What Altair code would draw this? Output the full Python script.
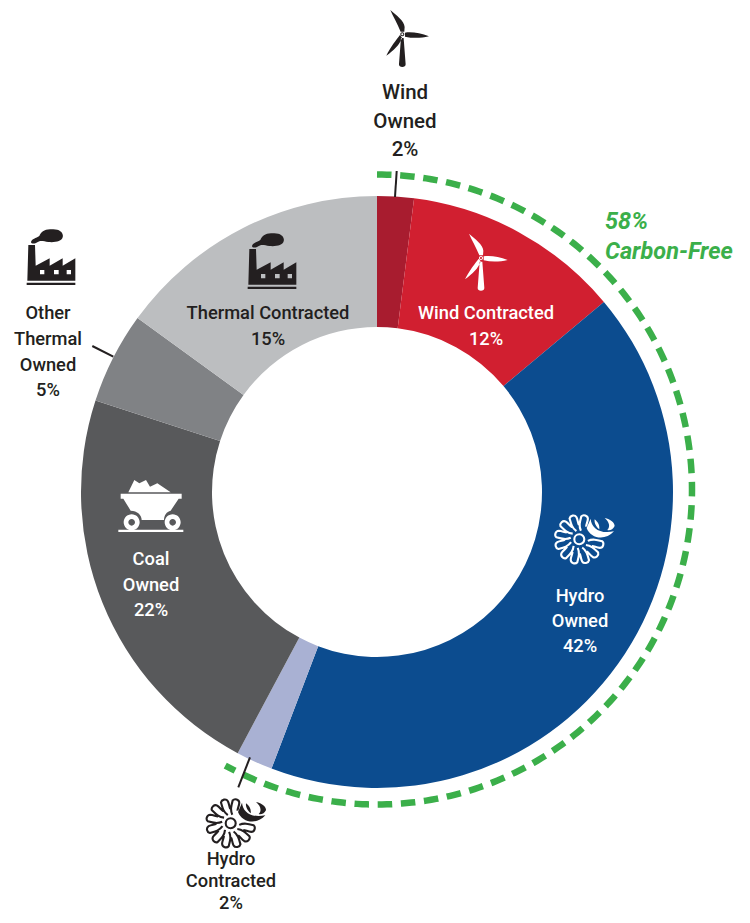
import math, re
import altair as alt
import pandas as pd

categories = ["Wind Owned", "Wind Contracted", "Hydro Owned", "Hydro Contracted",
              "Coal Owned", "Other Thermal Owned", "Thermal Contracted"]
shares = [2, 11.9, 41.9, 2, 22.2, 5, 15]
colors = ["#A81C2F", "#D11F30", "#0C4C8F", "#A9B1D3", "#58595B", "#808285", "#BCBEC0"]
carbon_free = 58

FONT = "Roboto"
INK = "#231F20"
GREEN = "#3BAF4A"

label_text = ["Wind", "Owned", "2%",
              "Other", "Thermal", "Owned", "5%",
              "Thermal Contracted", "15%",
              "Wind Contracted", "12%",
              "Hydro", "Owned", "42%",
              "Coal", "Owned", "22%",
              "Hydro", "Contracted", "2%"]
label_x = [405, 405, 405, 48, 48, 48, 48, 268, 268, 486, 486, 580, 580, 580, 151, 151, 151, 231, 231, 231]
label_y = [93, 122, 150, 314, 340, 366, 391, 314, 340, 314, 340, 597, 622, 647, 560, 586, 611, 860, 882, 904]
label_c = [INK] * 9 + ["#FFFFFF"] * 8 + [INK] * 3
label_s = [20.5, 20.5, 20.5] + [18.3] * 17
labels = pd.DataFrame(dict(t=label_text, x=label_x, y=label_y, c=label_c, s=label_s))

green_text = [f"{carbon_free}%", "Carbon-Free"]
green_x = [605, 605]
green_y = [222, 252]
greens = pd.DataFrame(dict(t=green_text, x=green_x, y=green_y))

leader_x = [396.7, 92.3, 250]
leader_y = [171, 346, 757.3]
leader_x2 = [395, 113.3, 238.3]
leader_y2 = [197, 356.7, 787.3]
leaders = pd.DataFrame(dict(x=leader_x, y=leader_y, x2=leader_x2, y2=leader_y2))


def circle(cx, cy, r, ccw=False):
    k = 0.5523 * r
    s = -1 if ccw else 1
    return (f"M{cx+r} {cy} C{cx+r} {cy+s*k} {cx+k} {cy+s*r} {cx} {cy+s*r} "
            f"C{cx-k} {cy+s*r} {cx-r} {cy+s*k} {cx-r} {cy} "
            f"C{cx-r} {cy-s*k} {cx-k} {cy-s*r} {cx} {cy-s*r} "
            f"C{cx+k} {cy-s*r} {cx+r} {cy-s*k} {cx+r} {cy} Z ")


def square(x0, y0, x1, y1):
    return f"M{x0} {y0} L{x0} {y1} L{x1} {y1} L{x1} {y0} Z "


TURBINE = ("M-5 -8 C-14 -30 -28 -55 -36 -73 C-18 -58 6 -40 7 -22 L6 -8 Z "
           "M8 -5 C30 -8 55 -3 80 6 C55 12 30 12 8 7 Z "
           "M-7 2 C-16 14 -37 40 -48 64 C-25 47 -8 32 -1 10 Z "
           "M-4 11 L4 11 L10 90 C10 96 6 98 0 98 C-6 98 -10 96 -10 90 Z "
           + circle(0, 0, 6) + circle(0, 0, 3, True))

FACTORY = ("M85 75 L105 75 L107 137 L149 115 L149 137 L188 115 L188 137 L226 115 L226 182 L82 182 Z "
           + square(120, 150, 133, 163) + square(162, 150, 176, 163) + square(200, 150, 213, 163)
           + "M80 188 L226 188 L226 195 L80 195 Z "
           "M93 66 C95 56 108 55 118 48 C122 36 135 26 155 28 C178 26 192 38 188 52 "
           "C185 64 165 68 145 66 C130 64 122 60 112 67 C105 72 93 72 93 66 Z")
FACTORY_OX, FACTORY_OY = 150, 130

CART = ("M85 67 L103 30 L118 40 L138 30 L150 50 L172 40 L212 67 Z "
        "M62 71 L245 71 L245 86 L236 86 L212 122 C200 125 192 135 192 150 L125 150 "
        "C125 135 112 122 92 122 L70 86 L62 86 Z "
        + circle(95, 157, 24) + circle(95, 157, 10, True)
        + circle(218, 157, 24) + circle(218, 157, 10, True)
        + "M55 179 L250 179 L250 186 L55 186 Z")
CART_OX, CART_OY = 150, 105

# crescents of the water swirl, relative to the hub
SWIRL = ("M34 -62 C36 -35 60 -15 104 -24 C78 6 34 -2 22 -34 Z "
         "M46 -60 C56 -52 62 -42 60 -30 C52 -36 44 -48 46 -60 Z "
         "M76 -64 C94 -60 106 -50 106 -40 C102 -30 92 -26 84 -28 C94 -38 90 -52 76 -64 Z")


def petal(deg):
    a = math.radians(deg)
    ca, sa = math.cos(a), math.sin(a)
    pts = [(26, -2), (38, -12), (50, -12), (68, -12), (76, -8), (76, 6), (66, 9), (56, 11), (48, 8), (42, 10)]
    q = [(u * ca - v * sa, u * sa + v * ca) for u, v in pts]
    f = lambda p: f"{p[0]:.1f} {p[1]:.1f}"
    return (f"M{f(q[0])} C{f(q[1])} {f(q[2])} {f(q[3])} "
            f"C{f(q[4])} {f(q[5])} {f(q[6])} C{f(q[7])} {f(q[8])} {f(q[9])} ")


PETALS = "".join(petal(d) for d in range(15, 300, 30)) + circle(0, 0, 15)


def shift(path, ox, oy):
    out, i = [], 0
    for tok in re.findall(r"[A-Za-z]|-?[\d.]+", path):
        if tok.isalpha():
            out.append(tok)
        else:
            v = float(tok) - (ox if i % 2 == 0 else oy)
            out.append(f"{v:.1f}")
            i += 1
    return " ".join(out)


F = shift(FACTORY, FACTORY_OX, FACTORY_OY)
C = shift(CART, CART_OX, CART_OY)

fill_x = [402.3, 481, 50, 271, 150, 579.3, 230.7]
fill_y = [34.3, 258, 263.3, 267.3, 505, 539.3, 823.3]
fill_p = [TURBINE, TURBINE, F, F, C, SWIRL, SWIRL]
fill_c = [INK, "#FFFFFF", INK, INK, "#FFFFFF", "#FFFFFF", INK]
fills = pd.DataFrame(dict(x=fill_x, y=fill_y, p=fill_p, c=fill_c))

line_x = [579.3, 230.7]
line_y = [539.3, 823.3]
line_p = [PETALS, PETALS]
line_c = ["#FFFFFF", INK]
lines = pd.DataFrame(dict(x=line_x, y=line_y, p=line_p, c=line_c))

W, H = 734, 903
sx = alt.Scale(domain=[8, 8 + W], range=[0, W])
sy = alt.Scale(domain=[8, 8 + H], range=[0, H])
X = lambda f: alt.X(f, scale=sx, axis=None)
Y = lambda f: alt.Y(f, scale=sy, axis=None)

slices = pd.DataFrame(dict(k=categories, v=shares, c=colors, o=range(len(shares))))
donut = alt.Chart(slices).mark_arc(innerRadius=165, outerRadius=296).encode(
    theta=alt.Theta("v:Q", stack=True),
    order=alt.Order("o:Q"),
    color=alt.Color("c:N", scale=None),
    x=alt.value(377 - 8),
    y=alt.value(492 - 8),
)

# dashed ring: spans the carbon-free share of the circle
ring = (alt.Chart(alt.sequence(0, carbon_free + 0.2, 0.25, as_="t"))
        .transform_calculate(
            x="377 + 315 * sin(2 * PI * datum.t / 100)",
            y="489.5 - 315 * cos(2 * PI * datum.t / 100)")
        .mark_line(stroke=GREEN, strokeWidth=6.5, strokeDash=[14.5, 8.7], strokeCap="butt", interpolate="linear")
        .encode(x=X("x:Q"), y=Y("y:Q"), order="t:Q"))

rules = alt.Chart(leaders).mark_rule(stroke=INK, strokeWidth=2).encode(
    x=X("x:Q"), y=Y("y:Q"), x2="x2:Q", y2="y2:Q")

icon_size = (2 / 3) ** 2
icons_f = alt.Chart(fills).mark_point(filled=True, opacity=1, strokeWidth=0, size=icon_size).encode(
    x=X("x:Q"), y=Y("y:Q"), shape=alt.Shape("p:N", scale=None), color=alt.Color("c:N", scale=None))
icons_l = alt.Chart(lines).mark_point(filled=False, opacity=1, strokeWidth=2.1, size=icon_size).encode(
    x=X("x:Q"), y=Y("y:Q"), shape=alt.Shape("p:N", scale=None), color=alt.Color("c:N", scale=None))

texts = alt.Chart(labels).mark_text(font=FONT, align="center", baseline="middle", fontWeight=500).encode(
    x=X("x:Q"), y=Y("y:Q"), text="t:N",
    color=alt.Color("c:N", scale=None), size=alt.Size("s:Q", scale=None))

green_lab = alt.Chart(greens).mark_text(font=FONT, align="left", baseline="middle", fontWeight="bold",
                                        fontStyle="italic", fontSize=23.5, color=GREEN).encode(
    x=X("x:Q"), y=Y("y:Q"), text="t:N")

chart = (alt.layer(donut, ring, rules, icons_f, icons_l, texts, green_lab)
         .resolve_scale(color="independent", shape="independent", size="independent")
         .properties(width=W, height=H + 2, padding=0, autosize=alt.AutoSizeParams(type="none"))
         .configure_view(stroke=None))

chart.save("out.html", embed_options={"renderer": "svg", "actions": False})
